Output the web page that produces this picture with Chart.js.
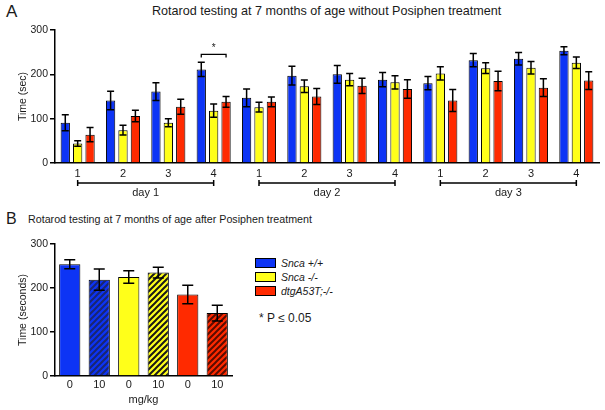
<!DOCTYPE html>
<html>
<head>
<meta charset="utf-8">
<script src="https://cdn.jsdelivr.net/npm/chart.js@4.4.0/dist/chart.umd.min.js"></script>
<style>
  html, body { margin:0; padding:0; background:#fff; }
  body { width:605px; height:410px; position:relative; overflow:hidden; font-family:"Liberation Sans", Arial, sans-serif; color:#1a1a1a; }
  .abs { position:absolute; white-space:nowrap; }
  canvas { position:absolute; }
  .lbox { position:absolute; width:19px; height:8px; border:1px solid #000; }
  .ltxt { position:absolute; font-style:italic; font-size:10.5px; line-height:12px; white-space:nowrap; }
</style>
</head>
<body>
<div class="abs" style="left:6px;top:2px;font-size:17px;line-height:20px;">A</div>
<div class="abs" style="left:152px;top:4px;font-size:12.6px;line-height:14px;">Rotarod testing at 7 months of age without Posiphen treatment</div>
<canvas id="chartA" width="605" height="200" style="left:0;top:0;"></canvas>

<div class="abs" style="left:6px;top:209px;font-size:16px;line-height:19px;">B</div>
<div class="abs" style="left:28px;top:213px;font-size:10.7px;line-height:12px;">Rotarod testing at 7 months of age after Posiphen treatment</div>
<canvas id="chartB" width="240" height="210" style="left:0;top:200px;"></canvas>

<div class="lbox" style="left:255px;top:258px;background:#0d34f5;"></div>
<div class="ltxt" style="left:281px;top:257px;">Snca +/+</div>
<div class="lbox" style="left:255px;top:272px;background:#ffff1a;"></div>
<div class="ltxt" style="left:281px;top:271px;">Snca -/-</div>
<div class="lbox" style="left:255px;top:286px;background:#ff2a00;"></div>
<div class="ltxt" style="left:281px;top:285px;">dtgA53T;-/-</div>
<div class="abs" style="left:259px;top:311px;font-size:12px;line-height:14px;">* P ≤ 0.05</div>

<script>
// ---------- DATA ----------
const trialLabels = ['1','2','3','4','1','2','3','4','1','2','3','4'];
const dayLabels = ['day 1','day 2','day 3'];
const sncaWT     = [91,141,161,211,147,197,200,188,180,232,235,253];
const sncaWTErr  = [18,21,20,16,20,21,20,16,15,15,14,9];
const sncaKO     = [44,74,91,118,126,173,188,182,202,214,215,226];
const sncaKOErr  = [6,11,9,15,11,14,14,15,15,12,14,13];
const dtgA53T    = [64,106,127,138,138,150,174,167,141,185,170,186];
const dtgA53TErr = [16,13,17,12,11,18,17,21,25,22,20,20];
const yTicks = [0,100,200,300];

const doseLabels = ['0','10','0','10','0','10'];
const posiphenTime = [254,219,225,235,185,143];
const posiphenErr  = [10,24,14,12,21,18];

// ---------- STYLE ----------
const BLUE = '#0d34f5', YELLOW = '#ffff1a', RED = '#ff2a00';
const FONT = '"Liberation Sans", Arial, sans-serif';
const TXT = '#1a1a1a';

function hatch(base, stripe){
  const s = 6, c = document.createElement('canvas');
  c.width = s; c.height = s;
  const x = c.getContext('2d');
  x.fillStyle = base; x.fillRect(0,0,s,s);
  x.strokeStyle = stripe; x.lineWidth = 2;
  x.beginPath();
  x.moveTo(-1,s+1); x.lineTo(s+1,-1);
  x.moveTo(-1,1); x.lineTo(1,-1);
  x.moveTo(s-1,s+1); x.lineTo(s+1,s-1);
  x.stroke();
  return x.createPattern(c,'repeat');
}

const errorBars = {
  id:'errorBars',
  afterDatasetsDraw(chart, args, opts){
    const ctx = chart.ctx, y = chart.scales.y;
    ctx.save();
    ctx.strokeStyle = '#000'; ctx.lineWidth = opts.lineWidth || 1.5;
    chart.data.datasets.forEach((ds,i)=>{
      const meta = chart.getDatasetMeta(i);
      meta.data.forEach((bar,j)=>{
        const v = ds.data[j], e = ds.errors[j];
        const top = y.getPixelForValue(v+e), bot = y.getPixelForValue(v-e);
        const cap = opts.cap;
        ctx.beginPath();
        ctx.moveTo(bar.x, top); ctx.lineTo(bar.x, bot);
        ctx.moveTo(bar.x-cap, top); ctx.lineTo(bar.x+cap, top);
        ctx.moveTo(bar.x-cap, bot); ctx.lineTo(bar.x+cap, bot);
        ctx.stroke();
      });
    });
    ctx.restore();
  }
};

const annotationsA = {
  id:'annotationsA',
  afterDraw(chart){
    const ctx = chart.ctx, x = chart.scales.x, y = chart.scales.y;
    ctx.save();
    ctx.strokeStyle = '#000'; ctx.fillStyle = TXT; ctx.lineWidth = 1.5;
    const by = chart.chartArea.bottom + 20;
    ctx.font = '11px ' + FONT;
    ctx.textAlign = 'center'; ctx.textBaseline = 'middle';
    dayLabels.forEach((lab,d)=>{
      const x0 = x.getPixelForValue(d*4), x1 = x.getPixelForValue(d*4+3);
      ctx.beginPath();
      ctx.moveTo(x0, by); ctx.lineTo(x1, by);
      ctx.moveTo(x0, by-3); ctx.lineTo(x0, by+3);
      ctx.moveTo(x1, by-3); ctx.lineTo(x1, by+3);
      ctx.stroke();
      ctx.fillText(lab, (x0+x1)/2, by+10);
    });
    const m0 = chart.getDatasetMeta(0).data[3], m2 = chart.getDatasetMeta(2).data[3];
    const sy = y.getPixelForValue(245);
    ctx.lineWidth = 1.3;
    ctx.beginPath();
    ctx.moveTo(m0.x, sy+3); ctx.lineTo(m0.x, sy); ctx.lineTo(m2.x, sy); ctx.lineTo(m2.x, sy+3);
    ctx.stroke();
    ctx.font = '10px ' + FONT;
    ctx.fillText('*', (m0.x+m2.x)/2, sy-6);
    ctx.restore();
  }
};

function yAxis(width, titleText, titlePad){
  return {
    min:0, max:300,
    afterFit(s){ s.width = width; },
    afterBuildTicks(s){ s.ticks = yTicks.map(v=>({value:v})); },
    ticks:{ color:TXT, font:{family:FONT, size:10.5}, padding:2 },
    grid:{ display:true, drawOnChartArea:false, drawTicks:true, tickLength:5, color:'#000', lineWidth:1.5 },
    border:{ display:true, color:'#000', width:1.5 },
    title:{ display:true, text:titleText, color:TXT, font:{family:FONT, size:10.5}, padding:{top:titlePad, bottom:0} }
  };
}

Chart.defaults.animation = false;

new Chart(document.getElementById('chartA'), {
  type:'bar',
  data:{
    labels: trialLabels,
    datasets:[
      { label:'Snca +/+', data:sncaWT, errors:sncaWTErr, backgroundColor:BLUE, borderColor:'#000', borderWidth:1 },
      { label:'Snca -/-', data:sncaKO, errors:sncaKOErr, backgroundColor:YELLOW, borderColor:'#000', borderWidth:1 },
      { label:'dtgA53T;-/-', data:dtgA53T, errors:dtgA53TErr, backgroundColor:RED, borderColor:'#000', borderWidth:1 }
    ]
  },
  options:{
    responsive:false, devicePixelRatio:1, animation:false,
    layout:{ padding:{ top:30, right:6, left:0, bottom:0 } },
    categoryPercentage:0.82, barPercentage:0.75,
    plugins:{ legend:{display:false}, tooltip:{enabled:false}, errorBars:{cap:3.5, lineWidth:1.5} },
    scales:{
      x:{
        afterFit(s){ s.height = 37; },
        ticks:{ color:TXT, font:{family:FONT, size:11}, padding:4, maxRotation:0, autoSkip:false },
        grid:{ display:false, drawTicks:false },
        border:{ display:true, color:'#000', width:1.5 }
      },
      y: yAxis(55, 'Time (sec)', 17)
    }
  },
  plugins:[errorBars, annotationsA]
});

new Chart(document.getElementById('chartB'), {
  type:'bar',
  data:{
    labels: doseLabels,
    datasets:[{
      label:'Posiphen',
      data: posiphenTime,
      errors: posiphenErr,
      backgroundColor:[BLUE, hatch(BLUE,'#1a2670'), YELLOW, hatch(YELLOW,'#1a1a1a'), RED, hatch(RED,'#5a0c00')],
      borderColor:'#000', borderWidth:1
    }]
  },
  options:{
    responsive:false, devicePixelRatio:1, animation:false,
    layout:{ padding:{ top:44, right:8, left:0, bottom:0 } },
    categoryPercentage:1, barPercentage:0.72,
    plugins:{ legend:{display:false}, tooltip:{enabled:false}, errorBars:{cap:5.5, lineWidth:1.5} },
    scales:{
      x:{
        afterFit(s){ s.height = 34; },
        ticks:{ color:TXT, font:{family:FONT, size:11}, padding:2, maxRotation:0, autoSkip:false },
        grid:{ display:false, drawTicks:false },
        border:{ display:true, color:'#000', width:1.5 },
        title:{ display:true, text:'mg/kg', color:TXT, font:{family:FONT, size:11}, padding:{top:0, bottom:3} }
      },
      y: yAxis(55, 'Time (seconds)', 17)
    }
  },
  plugins:[errorBars]
});
</script>
</body>
</html>
